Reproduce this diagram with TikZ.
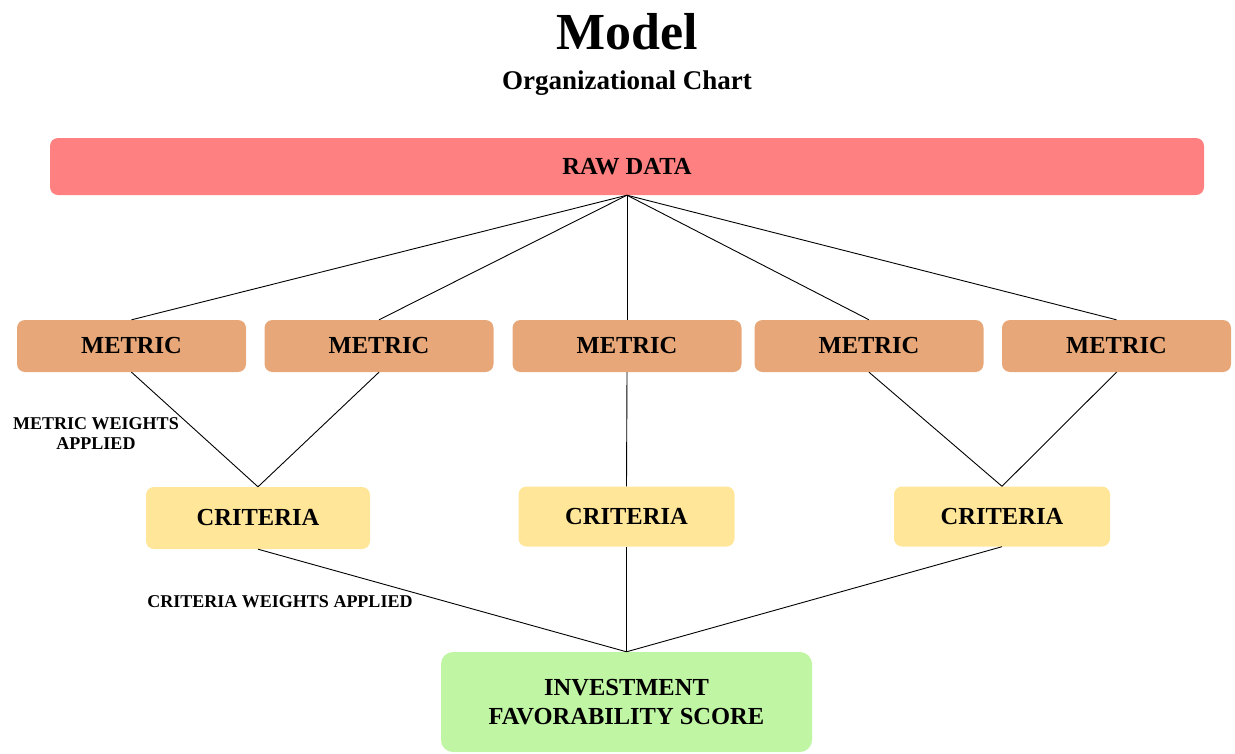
\documentclass[tikz,border=0pt]{standalone}
\usepackage{fontspec}
\setmainfont{Liberation Serif}
\usepackage{tikz}
\usetikzlibrary{positioning}
\definecolor{rawc}{RGB}{255,128,128}
\definecolor{metricc}{RGB}{231,167,120}
\definecolor{critc}{RGB}{255,230,153}
\definecolor{scorec}{RGB}{192,245,164}

\begin{document}
\begin{tikzpicture}[x=1pt, y=-1pt,
  every node/.style={font=\bfseries, inner sep=0pt},
  box/.style={rounded corners=8pt, align=center, font=\fontsize{24.5}{29}\selectfont\bfseries},
  metricbox/.style={box, fill=metricc, minimum width=229pt, minimum height=52pt},
  critbox/.style={box, fill=critc, minimum width=216pt, minimum height=60pt},
  small/.style={align=center, font=\fontsize{18}{20}\selectfont\bfseries},
  link/.style={line width=0.9pt}]
  \useasboundingbox (0,0) rectangle (1235,753);
  % titles
  \node[anchor=base, font=\fontsize{52}{56}\selectfont\bfseries] (title) at (627,49) {Model};
  \node[anchor=base, font=\fontsize{27}{30}\selectfont\bfseries] (subtitle) at (627,89) {Organizational Chart};
  % raw data
  \node[box, fill=rawc, minimum width=1154pt, minimum height=57pt] (raw) at (627,166.5) {RAW DATA};
  % metrics
  \foreach \n/\x in {1/131.5,2/379,3/627,4/869,5/1116.5}
    \node[metricbox] (m\n) at (\x,346) {METRIC};
  \foreach \n in {1,...,5} { \draw[link] (raw.south) -- (m\n.north); }
  % criteria
  \node[critbox, minimum width=224pt, minimum height=62pt] (c1) at (258,518) {CRITERIA};
  \node[critbox] (c2) at (626.5,516.5) {CRITERIA};
  \node[critbox] (c3) at (1002,516.5) {CRITERIA};
  \draw[link] (m1.south) -- (c1.north);
  \draw[link] (m2.south) -- (c1.north);
  \draw[link] (m3.south) -- (c2.north);
  \draw[link] (m4.south) -- (c3.north);
  \draw[link] (m5.south) -- (c3.north);
  \node[small] (mw) at (96,434) {METRIC WEIGHTS\\APPLIED};
  % score
  \node[box, fill=scorec, rounded corners=12pt, minimum width=371pt, minimum height=100pt] (score) at (626.5,702) {INVESTMENT\\FAVORABILITY SCORE};
  \foreach \n in {1,2,3} { \draw[link] (c\n.south) -- (score.north); }
  \node[small] (cw) at (280,602) {CRITERIA WEIGHTS APPLIED};
\end{tikzpicture}
\end{document}
